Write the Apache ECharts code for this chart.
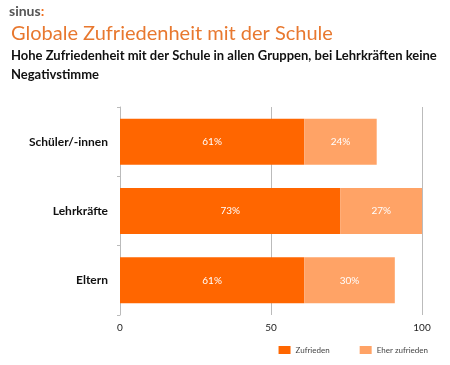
<!DOCTYPE html>
<html><head><meta charset="utf-8">
<script src="https://cdn.jsdelivr.net/npm/echarts@6/dist/echarts.min.js"></script>
<style>html,body{margin:0;padding:0;background:#fff}#c{width:450px;height:365px}</style>
</head><body><div id="c"></div>
<script>
const categories = ['Schüler/-innen', 'Lehrkräfte', 'Eltern'];
const zufrieden = [61, 73, 61];
const eherZufrieden = [24, 27, 30];
const seriesNames = ['Zufrieden', 'Eher zufrieden'];
const xTicks = [0, 50, 100];

const chart = echarts.init(document.getElementById('c'));
const font = 'Lato, "Open Sans", sans-serif';
chart.setOption({
  animation: false,
  textStyle: {fontFamily: font},
  title: [
    {text: '{a|sinus}{b|:}', left: 4, top: -1, textStyle: {rich: {
      a: {fontFamily: font, fontSize: 14, color: '#555', fontWeight: 'bold'},
      b: {fontFamily: font, fontSize: 14, color: '#f07020', fontWeight: 'bold'}}}},
    {text: 'Globale Zufriedenheit mit der Schule', left: 6, top: 19,
      textStyle: {fontFamily: font, fontSize: 20, fontWeight: 'normal', color: '#e8782f'}},
    {text: 'Hohe Zufriedenheit mit der Schule in allen Gruppen, bei Lehrkräften keine\nNegativstimme', left: 6, top: 41,
      textStyle: {fontFamily: font, fontSize: 13, fontWeight: 'bold', color: '#111', lineHeight: 19}}
  ],
  legend: {
    bottom: 6, right: 17, itemWidth: 12, itemHeight: 8, itemGap: 30,
    icon: 'rect',
    textStyle: {fontSize: 8, color: '#444', fontFamily: font},
    data: seriesNames
  },
  grid: {left: 120, right: 28, top: 107, bottom: 50},
  xAxis: {
    type: 'value', min: 0, max: 100, interval: 50,
    axisLine: {show: false}, axisTick: {show: false},
    splitLine: {lineStyle: {color: '#bbb', width: 1}},
    axisLabel: {color: '#222', fontSize: 10, margin: 8, fontFamily: font}
  },
  yAxis: {
    type: 'category', data: categories, inverse: true,
    axisLine: {lineStyle: {color: '#bbb'}},
    axisTick: {show: true, length: 3, lineStyle: {color: '#bbb'}},
    axisLabel: {color: '#111', fontSize: 12, fontWeight: 'bold', margin: 12, fontFamily: font}
  },
  series: [
    {name: seriesNames[0], type: 'bar', stack: 's', data: zufrieden, barWidth: 46,
      itemStyle: {color: '#ff6600'},
      label: {show: true, position: 'inside', formatter: '{c}%', color: '#fff', fontSize: 10, fontFamily: font}},
    {name: seriesNames[1], type: 'bar', stack: 's', data: eherZufrieden, barWidth: 46,
      itemStyle: {color: '#ffa366'},
      label: {show: true, position: 'inside', formatter: '{c}%', color: '#fff', fontSize: 10, fontFamily: font}}
  ]
});
</script></body></html>
